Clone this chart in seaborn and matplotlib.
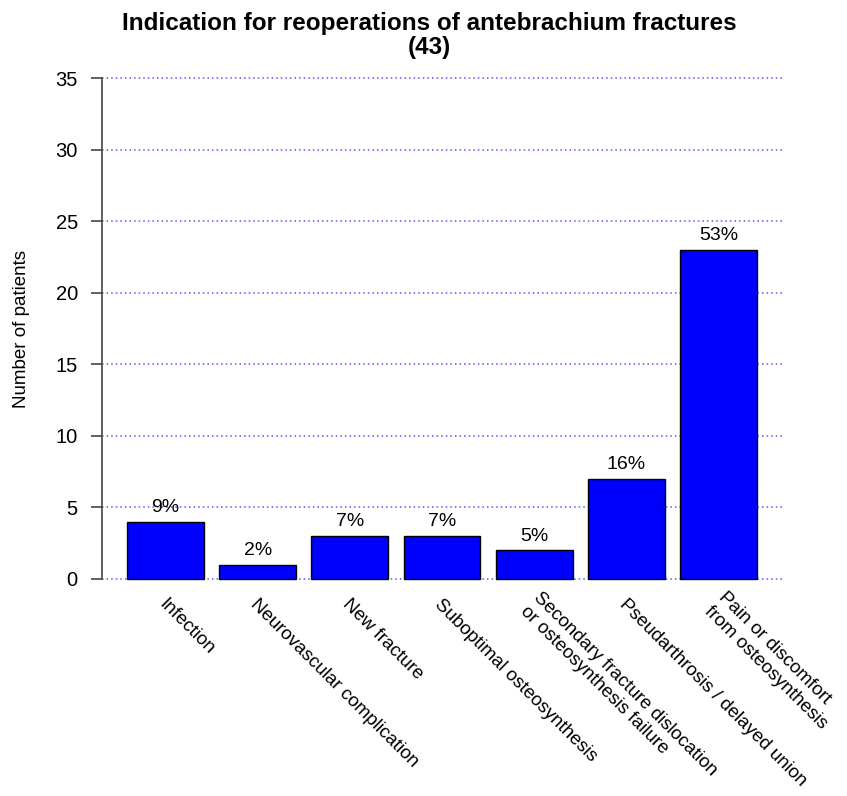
import matplotlib
matplotlib.use("Agg")
import matplotlib.pyplot as plt
import seaborn as sns
import pandas as pd

# data
categories = [
    "Infection",
    "Neurovascular complication",
    "New fracture",
    "Suboptimal osteosynthesis",
    "Secondary fracture dislocation\nor osteosynthesis failure",
    "Pseudarthrosis / delayed union",
    "Pain or discomfort\nfrom osteosynthesis",
]
patients = [4, 1, 3, 3, 2, 7, 23]
percent_labels = ["9%", "2%", "7%", "7%", "5%", "16%", "53%"]
total = 43
yticks = [0, 5, 10, 15, 20, 25, 30, 35]

sns.set_style("white")
plt.rcParams["font.family"] = ["Liberation Sans", "DejaVu Sans"]
plt.rcParams["text.color"] = "black"
plt.rcParams["axes.labelcolor"] = "black"
plt.rcParams["ytick.color"] = "black"

df = pd.DataFrame({"indication": categories, "patients": patients})

fig = plt.figure(figsize=(8.47, 7.96), dpi=100)
ax = fig.add_axes([0.1204, 0.2475, 0.8029, 0.6796])

# dotted grid behind the bars
for yv in yticks:
    ax.axhline(yv, color="#3a3aff", alpha=0.85, linestyle=(0, (1, 2)), linewidth=1.1, zorder=0)

sns.barplot(data=df, x="indication", y="patients", color="blue", saturation=1,
            edgecolor="black", linewidth=1, width=0.833, ax=ax, zorder=2)

ax.set_xlim(-0.69, 6.69)
ax.set_ylim(-1.4, 36.4)
ax.set_yticks(yticks)
ax.set_xticks([])
ax.set_xlabel("")
ax.set_ylabel("Number of patients", fontsize=13.5, labelpad=18)
ax.tick_params(axis="y", labelsize=14.5, length=8, width=1.2, color="#444444", pad=9.4, left=True)

for s in ["top", "right", "bottom"]:
    ax.spines[s].set_visible(False)
ax.spines["left"].set_bounds(0, 35)
ax.spines["left"].set_color("#444444")
ax.spines["left"].set_linewidth(1.2)

# percentage labels above bars
for i, (v, lab) in enumerate(zip(patients, percent_labels)):
    ax.annotate(lab, (i, v), xytext=(0, 7), textcoords="offset points",
                ha="center", va="baseline", fontsize=14)

# rotated category labels
for i, lab in enumerate(categories):
    ax.text(i - 0.05, -1.6, lab, rotation=-45, rotation_mode="anchor",
            ha="left", va="center", fontsize=13.5, clip_on=False, linespacing=1.2)

fig.text(0.507, 0.955, "Indication for reoperations of antebrachium fractures\n(%d)" % total,
         ha="center", va="center", fontsize=17.5, fontweight="bold", linespacing=1.05)

fig.savefig("out.png", dpi=100)
